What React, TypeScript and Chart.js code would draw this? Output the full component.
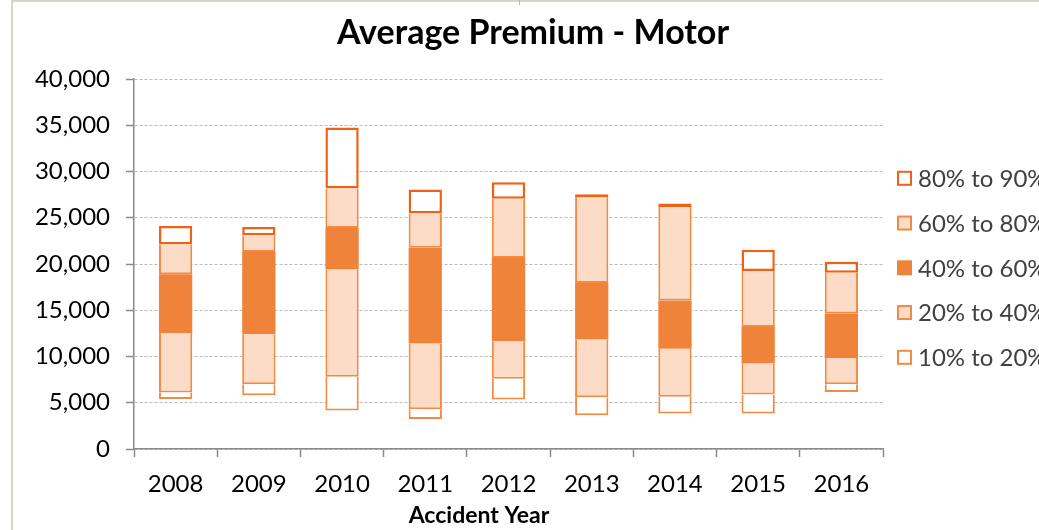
import React, { useEffect, useRef } from "react";
import { Chart, registerables } from "chart.js";

Chart.register(...registerables);

const years = ["2008", "2009", "2010", "2011", "2012", "2013", "2014", "2015", "2016"];
const p10 = [5400, 5800, 4150, 3250, 5350, 3650, 3850, 3850, 6150];
const p20 = [6100, 7000, 7800, 4300, 7600, 5600, 5650, 5900, 7000];
const p40 = [12550, 12400, 19400, 11400, 11650, 11850, 10850, 9250, 9850];
const p60 = [18900, 21300, 23900, 21750, 20650, 17950, 16050, 13200, 14650];
const p80 = [22100, 23100, 28150, 25450, 27050, 27250, 26150, 19250, 19050];
const p90 = [24100, 24000, 34750, 28050, 28850, 27550, 26550, 21550, 20250];
const seriesLabels = ["10% to 20%", "20% to 40%", "40% to 60%", "60% to 80%", "80% to 90%"];
const xAxisTitle = "Accident Year";

const FONT = "Lato, 'Open Sans', sans-serif";
const ORANGE = "#F0833A";
const ORANGE_LINE = "#F48A42";
const ORANGE_DARK = "#EE6214";
const PEACH = "#FDDCC7";

const fills = ["#FFFFFF", PEACH, ORANGE, PEACH, "#FFFFFF"];
const borders = [ORANGE_LINE, ORANGE_LINE, ORANGE, ORANGE_LINE, ORANGE_DARK];

const sideLegend = {
  id: "sideLegend",
  afterDraw(chart: any) {
    const { ctx, chartArea } = chart;
    const ds = chart.data.datasets;
    ctx.save();
    ctx.font = `24px ${FONT}`;
    ctx.textBaseline = "middle";
    ctx.textAlign = "left";
    for (let k = 0; k < ds.length; k++) {
      const d = ds[ds.length - 1 - k];
      const cy = chartArea.top + 99.3 + k * 44.75;
      const bx = chartArea.right + 14;
      const bs = 15;
      ctx.fillStyle = d.legendBorder;
      ctx.fillRect(bx, cy - bs / 2, bs, bs);
      ctx.fillStyle = d.backgroundColor;
      ctx.fillRect(bx + 2, cy - bs / 2 + 2, bs - 4, bs - 4);
      ctx.fillStyle = "#404040";
      ctx.fillText(d.label, bx + bs + 6, cy + 1);
    }
    // x axis title, placed as in the reference (slightly left of centre)
    ctx.font = `bold 23px ${FONT}`;
    ctx.fillStyle = "#000000";
    ctx.textAlign = "center";
    ctx.fillText(xAxisTitle, chartArea.left + 345, chartArea.bottom + 67);
    ctx.restore();
  },
};

export default function App() {
  const ref = useRef<HTMLCanvasElement>(null);

  useEffect(() => {
    if (!ref.current) return;
    const bounds = [p10, p20, p40, p60, p80, p90];
    const datasets = seriesLabels.map((label, s) => {
      const isTop = s === 4;
      const isMid = s === 2;
      return {
        label,
        data: years.map((_, i) => [bounds[s][i], bounds[s + 1][i]]),
        backgroundColor: fills[s],
        borderColor: borders[s],
        legendBorder: borders[s],
        borderWidth: isMid
          ? 0
          : isTop
          ? { top: 2.5, bottom: 2.5, left: 2.5, right: 2.5 }
          : { top: 0, bottom: 2, left: 2, right: 2 },
        borderSkipped: false,
        barPercentage: 0.5,
        categoryPercentage: 0.8,
        yAxisID: "y",
      };
    });

    const chart = new Chart(ref.current, {
      type: "bar",
      data: { labels: years, datasets: datasets as any },
      plugins: [sideLegend],
      options: {
        animation: false,
        responsive: false,
        maintainAspectRatio: false,
        layout: { padding: 0 },
        plugins: {
          legend: { display: false },
          tooltip: { enabled: false },
          title: {
            display: true,
            text: "Average Premium - Motor",
            color: "#000000",
            font: { family: FONT, size: 34, weight: "bold", lineHeight: 1.2 },
            padding: { top: 10.6, bottom: 25.6 },
          },
        },
        scales: {
          x: {
            stacked: true,
            offset: true,
            afterFit: (scale: any) => {
              scale.height = 81;
            },
            grid: {
              display: true,
              drawOnChartArea: false,
              drawTicks: true,
              tickLength: 8,
              tickColor: "#8a8a8a",
              tickWidth: 1.5,
              offset: true,
            },
            border: { display: true, color: "#8a8a8a", width: 1.5 },
            ticks: {
              color: "#000000",
              font: { family: FONT, size: 24, lineHeight: 1.2 },
              padding: 12.5,
              maxRotation: 0,
            },
            title: { display: false },
          },
          y: {
            position: "left",
            stacked: false,
            min: 0,
            max: 40000,
            afterFit: (scale: any) => {
              scale.width = 121;
            },
            ticks: {
              stepSize: 5000,
              color: "#000000",
              font: { family: FONT, size: 24 },
              padding: 16,
              callback: (v: any) => Number(v).toLocaleString("en-US"),
            },
            grid: {
              color: "#b9b9b9",
              lineWidth: 1,
              tickLength: 8,
              tickColor: "#8a8a8a",
              tickWidth: 1.5,
              tickBorderDash: [],
            },
            border: { display: true, color: "#8a8a8a", width: 1.5, dash: [3, 2] },
          },
          legendSpace: {
            type: "linear",
            position: "right",
            min: 0,
            max: 1,
            afterFit: (scale: any) => {
              scale.width = 170;
            },
            ticks: { display: false },
            grid: { display: false, drawTicks: false },
            border: { display: false },
          },
        },
      },
    });
    return () => chart.destroy();
  }, []);

  return (
    <div
      style={{
        position: "fixed",
        left: 0,
        top: 0,
        width: 1039,
        height: 530,
        overflow: "hidden",
        background: "#ffffff",
      }}
    >
      <div style={{ position: "absolute", left: 11, top: 0, width: 2, height: 530, background: "#d8d5cd" }} />
      <div style={{ position: "absolute", left: 11, top: 0, width: 1028, height: 2, background: "#d8d5cd" }} />
      <div style={{ position: "absolute", left: 519, top: 0, width: 1, height: 5, background: "#b8b8b8" }} />
      <canvas
        ref={ref}
        width={1040}
        height={528}
        style={{ position: "absolute", left: 13, top: 2, width: 1040, height: 528 }}
      />
    </div>
  );
}
